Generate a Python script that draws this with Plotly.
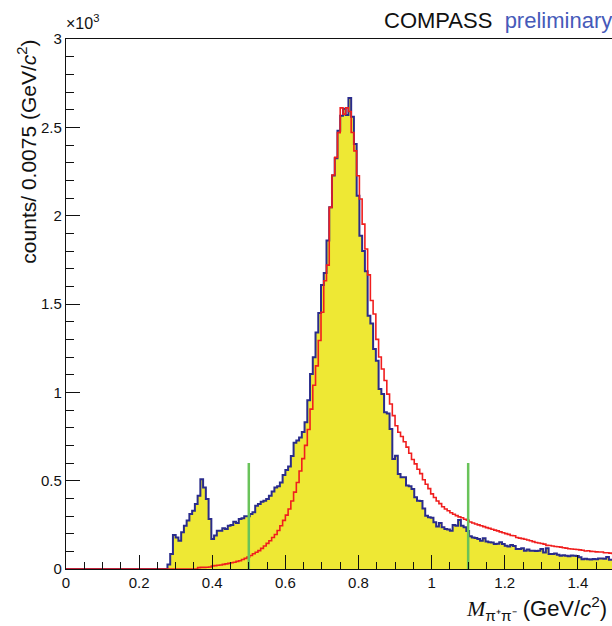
import plotly.graph_objects as go

# ---------------- data ----------------
bin_width = 0.0075          # GeV/c^2
n_bins = 200                # 0 .. 1.5 GeV/c^2

data_start = 0.2775
data_counts = [
    25, 85, 192, 178, 160, 208, 245, 274, 311, 330,
    368, 415, 508, 462, 396, 283, 170, 189, 217, 217,
    230, 226, 245, 249, 268, 260, 283, 287, 298, 298,
    311, 321, 358, 368, 381, 387, 396, 415, 438, 462,
    468, 490, 532, 560, 580, 640, 715, 728, 745, 775,
    830, 955, 1104, 1198, 1339, 1449, 1607, 1675, 1860, 2047,
    2228, 2325, 2480, 2565, 2605, 2570, 2666, 2560, 2405, 2113,
    1886, 1800, 1685, 1434, 1390, 1245, 1179, 1019, 990, 887,
    880, 792, 623, 641, 538, 519, 519, 472, 468, 453,
    406, 387, 385, 343, 302, 293, 290, 264, 241, 260,
    236, 226, 224, 217, 249, 245, 277, 245, 236, 215,
    185, 179, 175, 170, 160, 174, 155, 151, 150, 142,
    143, 151, 142, 132, 128, 136, 130, 113, 113, 117,
    104, 110, 104, 104, 102, 104, 113, 94, 117, 85,
    85, 88, 80, 75, 78, 75, 72, 76, 75, 74,
    66, 55, 58, 55, 54, 56, 55, 60, 60, 58,
    68, 53, 53,
]

fit_start = 0.36
fit_counts = [
    8, 9, 9, 10, 11, 17, 19, 21, 23, 26,
    29, 32, 35, 38, 43, 47, 54, 60, 68, 76,
    86, 95, 104, 117, 130, 145, 160, 178, 195, 218,
    245, 275, 305, 340, 385, 435, 490, 555, 625, 700,
    790, 905, 1040, 1150, 1293, 1453, 1632, 1720, 2047, 2230,
    2330, 2470, 2610, 2575, 2610, 2590, 2471, 2367, 2226, 2094,
    1952, 1811, 1665, 1520, 1443, 1300, 1200, 1132, 1067, 990,
    934, 868, 811, 774, 750, 720, 690, 655, 620, 595,
    565, 540, 505, 480, 455, 425, 405, 385, 370, 352,
    340, 330, 318, 310, 302, 295, 290, 282, 276, 266,
    260, 255, 250, 245, 240, 234, 230, 225, 220, 216,
    210, 205, 200, 196, 190, 188, 178, 175, 172, 168,
    164, 160, 155, 150, 147, 144, 141, 134, 133, 130,
    127, 126, 124, 120, 118, 115, 113, 112, 110, 108,
    106, 102, 103, 100, 99, 97, 96, 96, 92, 92,
    90, 88,
]

cut_positions = [0.5, 1.1]
cut_height = 600

x_tick_vals = [0, 0.2, 0.4, 0.6, 0.8, 1.0, 1.2, 1.4]
x_tick_text = ["0", "0.2", "0.4", "0.6", "0.8", "1", "1.2", "1.4"]
y_tick_vals = [0, 500, 1000, 1500, 2000, 2500, 3000]
y_tick_text = ["0", "0.5", "1", "1.5", "2", "2.5", "3"]


def full_hist(start, counts):
    i0 = int(round(start / bin_width))
    arr = [0] * n_bins
    for k, c in enumerate(counts):
        if 0 <= i0 + k < n_bins:
            arr[i0 + k] = c
    return arr


edges = [i * bin_width for i in range(n_bins + 1)]
data_full = full_hist(data_start, data_counts)
fit_full = full_hist(fit_start, fit_counts)

YELLOW = "rgb(238,232,52)"
NAVY = "rgb(42,44,140)"
RED = "rgb(240,30,30)"
GREEN = "rgb(105,195,90)"

fig = go.Figure()
fig.add_trace(go.Scatter(
    x=edges, y=data_full + [data_full[-1]], mode="lines", line_shape="hv",
    line=dict(color=NAVY, width=2), fill="tozeroy", fillcolor=YELLOW,
    hoverinfo="skip"))
fig.add_trace(go.Scatter(
    x=edges, y=fit_full + [fit_full[-1]], mode="lines", line_shape="hv",
    line=dict(color=RED, width=1.6), hoverinfo="skip"))
for xc in cut_positions:
    fig.add_trace(go.Scatter(
        x=[xc, xc], y=[0, cut_height], mode="lines",
        line=dict(color=GREEN, width=2.5), hoverinfo="skip"))

FONT = "Liberation Sans, Arial, sans-serif"
AX = "#111"
fig.update_layout(
    width=612, height=626,
    margin=dict(l=66, r=0, t=39, b=57, pad=0),
    paper_bgcolor="white", plot_bgcolor="white",
    showlegend=False,
    font=dict(family=FONT, size=14, color="#111"),
    xaxis=dict(
        range=[0, 1.4934], showgrid=False, zeroline=False,
        showline=True, linecolor=AX, linewidth=1.3, mirror=True,
        ticks="inside", ticklen=14, tickwidth=1.3, tickcolor=AX,
        tickvals=x_tick_vals, ticktext=x_tick_text,
        tickfont=dict(size=15, family=FONT, color="#111"),
        minor=dict(ticks="inside", ticklen=7, tickwidth=1.3, tickcolor=AX,
                   tick0=0, dtick=0.05, showgrid=False),
    ),
    yaxis=dict(
        range=[0, 3000], showgrid=False, zeroline=False,
        showline=True, linecolor=AX, linewidth=1.3, mirror=False,
        ticks="inside", ticklen=14, tickwidth=1.3, tickcolor=AX,
        tickvals=y_tick_vals, ticktext=y_tick_text,
        tickfont=dict(size=15, family=FONT, color="#111"),
        minor=dict(ticks="inside", ticklen=8, tickwidth=1.3, tickcolor=AX,
                   tick0=0, dtick=100, showgrid=False),
    ),
)

annotations = [
    dict(text="COMPASS&nbsp;&nbsp;<span style='color:rgb(70,90,185)'>preliminary</span>",
         xref="paper", yref="paper", x=1.004, y=1.035, xanchor="right", yanchor="middle",
         showarrow=False, font=dict(family=FONT, size=22, color="#111")),
    dict(text="×10<sup>3</sup>", xref="paper", yref="paper", x=-0.003, y=1.010,
         xanchor="left", yanchor="bottom", showarrow=False,
         font=dict(family=FONT, size=16, color="#111")),
    dict(text="counts/ 0.0075 (GeV/<i>c</i><sup>2</sup>)", xref="paper", yref="paper",
         x=-0.071, y=1.003, xanchor="center", yanchor="top", textangle=-90,
         showarrow=False, font=dict(family=FONT, size=21, color="#111")),
    dict(text="<span style='font-family:Liberation Serif'><i>M</i></span><sub>π⁺π⁻</sub> (GeV/<i>c</i><sup>2</sup>)",
         xref="paper", yref="paper", x=0.995, y=-0.074, xanchor="right", yanchor="middle",
         showarrow=False, font=dict(family=FONT, size=22, color="#111")),
]
fig.update_layout(annotations=annotations)

fig.write_html("out.html", config={"displayModeBar": False},
               post_script="document.body.style.margin='0';document.body.style.padding='0';")
